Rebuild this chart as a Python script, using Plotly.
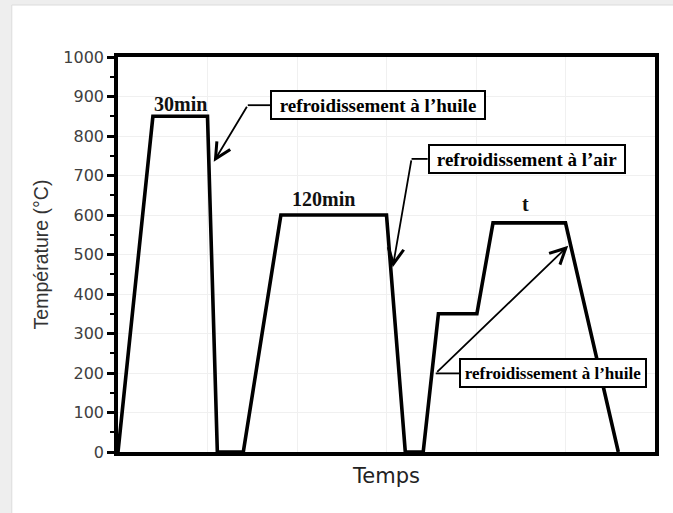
import plotly.graph_objects as go

# Heat-treatment cycles: temperature (°C) against time (arbitrary units)
time = [0.0, 0.39, 1.0, 1.11, 1.40, 1.82, 3.0, 3.21, 3.41, 3.58, 4.01, 4.19, 5.0, 5.59]
temperature = [0, 850, 850, 0, 0, 600, 600, 0, 0, 350, 350, 580, 580, 0]

# Hold-time labels placed above each plateau
hold_labels = ["30min", "120min", "t"]
hold_x = [0.70, 2.30, 4.55]
hold_y = [882, 640, 627]
hold_sizes = [20, 20, 20]

# Cooling-mode callouts: box left edge, elbow and arrow tip (data units)
callout_text = ["refroidissement à l’huile", "refroidissement à l’air", "refroidissement à l’huile"]
callout_box_x = [1.70, 3.46, 3.81]
callout_box_y = [878, 742, 199]
callout_box_w = [210, 192, 182]
callout_font = [19, 19, 17]
callout_elbow_x = [1.45, 3.28, 3.55]
callout_elbow_y = [878, 742, 199]
callout_tip_x = [1.07, 3.07, 5.03]
callout_tip_y = [735, 468, 522]

fig = go.Figure()
fig.add_trace(go.Scatter(
    x=time, y=temperature, mode="lines",
    line=dict(color="black", width=3.6),
    hoverinfo="skip", showlegend=False,
))

annotations = []
shapes = []

# Card background: light grey page with a white panel
shapes.append(dict(type="rect", xref="paper", yref="paper",
                   x0=-0.25, x1=1.06, y0=-0.2, y1=1.2,
                   fillcolor="#eeeeee", line=dict(width=0), layer="below"))
shapes.append(dict(type="rect", xref="paper", yref="paper",
                   x0=-0.1978, x1=1.06, y0=-0.2, y1=1.1316,
                   fillcolor="white", line=dict(color="#dcdcdc", width=1), layer="below"))

serif = "Liberation Serif"

for txt, x, y, s in zip(hold_labels, hold_x, hold_y, hold_sizes):
    annotations.append(dict(
        x=x, y=y, xref="x", yref="y", text=f"<b>{txt}</b>", showarrow=False,
        font=dict(family=serif, size=s, color="#111111"),
        xanchor="center", yanchor="middle",
    ))

for i, txt in enumerate(callout_text):
    annotations.append(dict(
        x=callout_box_x[i], y=callout_box_y[i], xref="x", yref="y",
        text=f"<b>{txt}</b>", showarrow=False,
        font=dict(family=serif, size=callout_font[i], color="black"),
        xanchor="left", yanchor="middle",
        bgcolor="white", bordercolor="black", borderwidth=2, borderpad=1,
        width=callout_box_w[i], height=24, align="center",
    ))
    shapes.append(dict(
        type="line", xref="x", yref="y",
        x0=callout_box_x[i], y0=callout_box_y[i],
        x1=callout_elbow_x[i], y1=callout_elbow_y[i],
        line=dict(color="black", width=1.8),
    ))
    annotations.append(dict(
        x=callout_tip_x[i], y=callout_tip_y[i], xref="x", yref="y",
        ax=callout_elbow_x[i], ay=callout_elbow_y[i], axref="x", ayref="y",
        text="", showarrow=True, arrowhead=5, arrowsize=1.7, arrowwidth=1.8,
        arrowcolor="black",
    ))

fig.update_layout(
    width=673, height=513,
    margin=dict(l=118, r=18, t=57, b=61),
    paper_bgcolor="white", plot_bgcolor="white",
    shapes=shapes, annotations=annotations,
    showlegend=False,
)

fig.update_xaxes(
    range=[0, 6], dtick=1, showticklabels=False, ticks="",
    showgrid=True, gridcolor="#f0f0f0", gridwidth=1, zeroline=False,
    showline=True, linecolor="black", linewidth=3.5, mirror=True,
    title=dict(text="Temps", font=dict(family="DejaVu Sans", size=21, color="#222222"), standoff=15),
)
fig.update_yaxes(
    range=[0, 1000], dtick=100, ticks="outside", ticklen=7, tickwidth=2.5, tickcolor="black",
    minor=dict(dtick=50, ticks="outside", ticklen=4, tickwidth=2, tickcolor="black", showgrid=False),
    tickfont=dict(family="DejaVu Sans", size=16, color="#404040"),
    showgrid=True, gridcolor="#f0f0f0", gridwidth=1, zeroline=False,
    showline=True, linecolor="black", linewidth=3.5, mirror=True,
    title=dict(text="Température (°C)", font=dict(family="Liberation Sans", size=19.5, color="#333333"), standoff=11),
)

fig.write_html("out.html")
